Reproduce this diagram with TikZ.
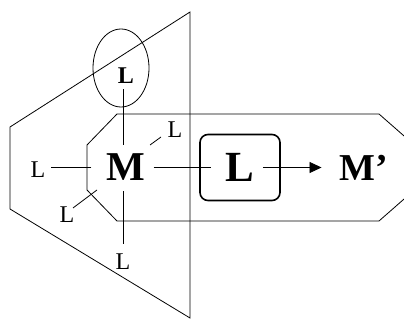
\documentclass[tikz,border=0pt]{standalone}
\usepackage{fontspec}
\setmainfont{Liberation Serif}
\usetikzlibrary{calc,arrows.meta,shapes.geometric}
\tikzset{
  thin line/.style={line width=0.8pt},
  smallL/.style={inner sep=0pt, font=\fontsize{24}{24}\selectfont},
  smallLb/.style={inner sep=0pt, font=\fontsize{24}{24}\selectfont\bfseries},
  bigM/.style={inner sep=0pt, font=\fontsize{41}{41}\selectfont\bfseries},
  boxL/.style={draw, line width=1.6pt, rounded corners=8pt, minimum width=80pt, minimum height=66pt, inner sep=0pt, font=\fontsize{43}{43}\selectfont\bfseries},
  primeM/.style={inner sep=0pt, font=\fontsize{38}{38}\selectfont\bfseries},
  ringshape/.style={draw, ellipse, thin line, minimum width=56pt, minimum height=78pt, inner sep=0pt},
}
\begin{document}
\begin{tikzpicture}[x=1pt,y=-1pt]
\useasboundingbox (0,0) rectangle (404,320);
\begin{scope}
\clip (0,0) rectangle (404,320);
% plane
\draw[thin line] (190,12) -- (10,127) -- (10,209) -- (190,318) -- cycle;
% arrow-shaped region
\draw[thin line] (117,114) -- (379,114) -- (440,167.5) -- (379,221) -- (117,221) -- (87,190) -- (87,145) -- cycle;
\end{scope}
% ring
\node[ringshape] (ring) at (121,68) {};
% nodes
\coordinate (vx) at (123,0);
\node[bigM] (M) at (126,167.5) {M};
\node[smallLb] (topL) at (126,76) {L};
\node[smallL] (leftL) at (38,170) {L};
\node[smallL] (botL) at (123,262) {L};
\node[smallL] (urL) at (175,130) {L};
\node[smallL] (llL) at (67,215) {L};
\node[boxL] (box) at (240,167.5) {L};
\node[primeM] (Mp) at (364,167.5) {M’};
% connectors
\draw[thin line, shorten <=15pt, shorten >=5.5pt] (M.west) -- (M.west -| leftL.east);
\draw[thin line, shorten <=9pt, shorten >=5pt] (M.north -| vx) -- (topL.south -| vx);
\draw[thin line, shorten <=10pt, shorten >=10pt] (M.south -| vx) -- (botL.north -| vx);
\draw[thin line] ($(M)+(24,-22.5)$) -- ($(urL)+(-14,7)$);
\draw[thin line] ($(M)+(-29,22.5)$) -- ($(llL)+(6,-7)$);
\draw[thin line, shorten <=8pt] (M.east) -- ($(M.east -| box.west)+(12,0)$);
\draw[thin line, -{Triangle[length=12pt,width=11pt]}] ($(box.east)+(-18,0)$) -- ($(Mp.west |- box.east)+(-18,0)$);
\end{tikzpicture}
\end{document}
